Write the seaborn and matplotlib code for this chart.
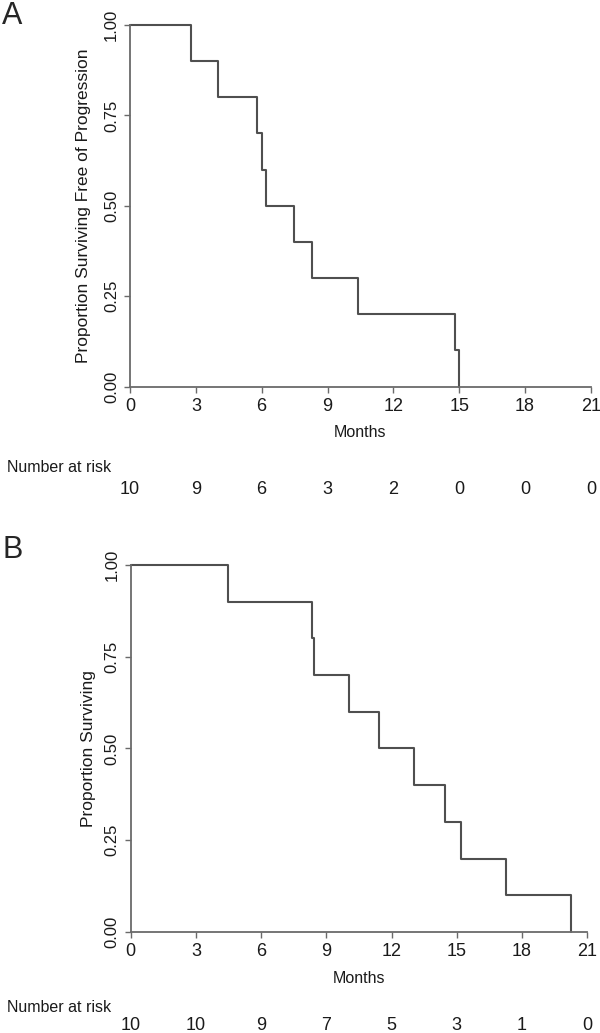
import matplotlib
matplotlib.use("Agg")
import matplotlib.pyplot as plt
import matplotlib.transforms as mtransforms
import seaborn as sns

# Kaplan-Meier step data
pfs_months = [0, 2.76, 4.0, 5.8, 6.03, 6.21, 7.47, 8.29, 10.37, 14.81, 15.0]
pfs_surv = [1.0, 0.9, 0.8, 0.7, 0.6, 0.5, 0.4, 0.3, 0.2, 0.1, 0.0]
os_months = [0, 4.46, 8.36, 8.45, 10.04, 11.42, 13.02, 14.47, 15.19, 17.28, 20.27]
os_surv = [1.0, 0.9, 0.8, 0.7, 0.6, 0.5, 0.4, 0.3, 0.2, 0.1, 0.0]

month_ticks = [0, 3, 6, 9, 12, 15, 18, 21]
pfs_at_risk = [10, 9, 6, 3, 2, 0, 0, 0]
os_at_risk = [10, 10, 9, 7, 5, 3, 1, 0]
y_ticks = [0, 0.25, 0.5, 0.75, 1.0]
y_tick_labels = ["0.00", "0.25", "0.50", "0.75", "1.00"]

sns.set_style("white")
plt.rcParams["font.family"] = ["Liberation Sans", "DejaVu Sans"]

line_col = "#4f4f4f"
axis_col = "#6a6a6a"
text_col = "#1a1a1a"

fig = plt.figure(figsize=(6.0, 10.33), dpi=100)

panels = [
    dict(rect=[0.2167, 0.6257, 0.768, 0.3501], t=pfs_months, s=pfs_surv, risk=pfs_at_risk,
         ylabel="Proportion Surviving Free of Progression", ylab_x=-0.100,
         letter="A", letter_y=0.999, months_y=0.581, nar_y=0.547, num_y=0.526),
    dict(rect=[0.2178, 0.0978, 0.761, 0.3553], t=os_months, s=os_surv, risk=os_at_risk,
         ylabel="Proportion Surviving", ylab_x=-0.092,
         letter="B", letter_y=0.482, months_y=0.053, nar_y=0.025, num_y=0.0075),
]

for p in panels:
    ax = fig.add_axes(p["rect"])
    sns.lineplot(x=p["t"], y=p["s"], ax=ax, drawstyle="steps-post", estimator=None,
                 sort=False, color=line_col, linewidth=1.5)
    ax.set_xlim(0, 21)
    ax.set_ylim(0, 1)
    ax.lines[0].set_clip_on(False)
    ax.set_xticks(month_ticks)
    ax.set_xticklabels([str(m) for m in month_ticks])
    ax.set_yticks(y_ticks)
    ax.set_yticklabels(y_tick_labels, rotation=90, va="center")
    for side in ["top", "right"]:
        ax.spines[side].set_visible(False)
    for side in ["left", "bottom"]:
        ax.spines[side].set_color(axis_col)
        ax.spines[side].set_linewidth(1.3)
    ax.tick_params(axis="both", direction="out", length=4, width=1, color=axis_col,
                   labelsize=13, labelcolor=text_col, pad=4, left=True, bottom=True)
    ax.tick_params(axis="y", labelsize=12)
    ax.set_xlabel("")
    ax.set_ylabel(p["ylabel"], fontsize=12.5, va="center", color=text_col)
    ax.yaxis.set_label_coords(p["ylab_x"], 0.5)

    # panel letter
    fig.text(0.004, p["letter_y"], p["letter"], fontsize=22, ha="left", va="top")
    trans = mtransforms.blended_transform_factory(ax.transData, fig.transFigure)
    ax.text(10.5, p["months_y"], "Months", transform=trans, ha="center", va="center",
            fontsize=11.5, color=text_col)
    fig.text(0.011, p["nar_y"], "Number at risk", ha="left", va="center",
             fontsize=11.5, color=text_col)
    for m, n in zip(month_ticks, p["risk"]):
        ax.text(m, p["num_y"], str(n), transform=trans, ha="center", va="center",
                fontsize=13, color=text_col, clip_on=False)

fig.savefig("out.png", dpi=100)
